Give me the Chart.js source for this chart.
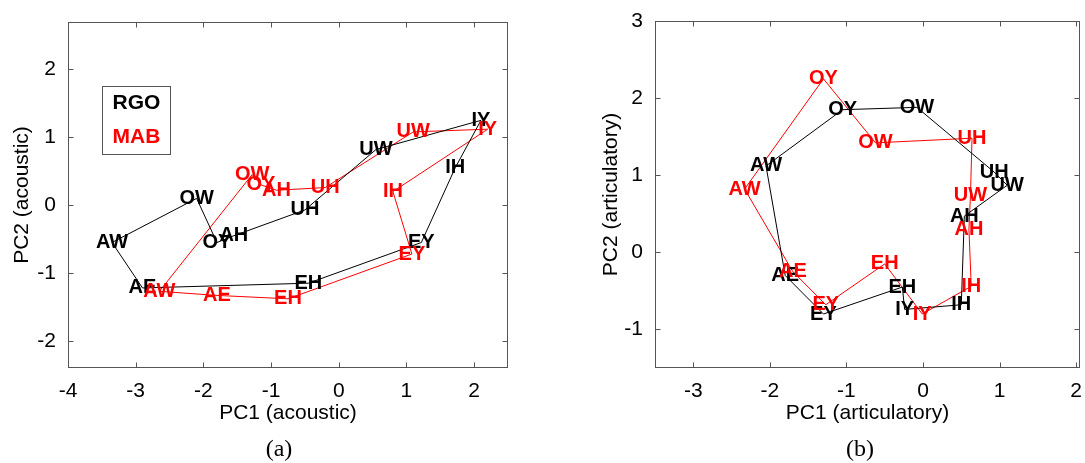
<!DOCTYPE html>
<html>
<head>
<meta charset="utf-8">
<script src="https://cdn.jsdelivr.net/npm/chart.js@4.4.0/dist/chart.umd.min.js"></script>
<style>
  body { margin: 0; background: #fff; width: 1085px; height: 463px; overflow: hidden; position: relative; }
  canvas { position: absolute; top: 0; }
  #chartA { left: 0; }
  #chartB { left: 540px; }
  .cap { position: absolute; top: 435px; font-family: "Liberation Serif", serif; font-size: 24px; color: #000; transform: translateX(-50%); }
</style>
</head>
<body>
<canvas id="chartA" width="540" height="463"></canvas>
<canvas id="chartB" width="545" height="463"></canvas>
<div class="cap" style="left:279px">(a)</div>
<div class="cap" style="left:860px">(b)</div>
<script>
// (a) acoustic space, vowels in polygon order
const acLabels = ['IY', 'IH', 'EY', 'EH', 'AE', 'AW', 'OW', 'OY', 'AH', 'UH', 'UW'];
const acRgoX = [2.1, 1.72, 1.22, -0.45, -2.9, -3.35, -2.1, -1.8, -1.55, -0.5, 0.55];
const acRgoY = [1.25, 0.55, -0.55, -1.15, -1.22, -0.55, 0.1, -0.55, -0.45, -0.07, 0.82];
const acMabX = [2.2, 0.8, 1.08, -0.75, -1.8, -2.65, -1.28, -1.15, -0.92, -0.2, 1.1];
const acMabY = [1.12, 0.2, -0.72, -1.38, -1.33, -1.27, 0.45, 0.3, 0.22, 0.26, 1.08];

// (b) articulatory space
const arLabels = ['AW', 'OY', 'OW', 'UH', 'UW', 'AH', 'IH', 'IY', 'EH', 'EY', 'AE'];
const arRgoX = [-2.05, -1.05, -0.08, 0.93, 1.1, 0.54, 0.5, -0.24, -0.27, -1.3, -1.8];
const arRgoY = [1.12, 1.85, 1.88, 1.04, 0.87, 0.47, -0.68, -0.74, -0.45, -0.8, -0.3];
const arMabX = [-2.33, -1.3, -0.62, 0.64, 0.62, 0.6, 0.63, -0.01, -0.5, -1.27, -1.7];
const arMabY = [0.82, 2.25, 1.42, 1.48, 0.74, 0.3, -0.44, -0.8, -0.15, -0.68, -0.25];

const seriesNames = ['RGO', 'MAB'];
const seriesColors = ['#000000', '#ff0000'];

const axisColor = '#555555';
const sans = '"Liberation Sans", Arial, sans-serif';

// closed polygon
function loop(xs, ys) {
    const pts = xs.map((x, i) => ({x: x, y: ys[i]}));
    pts.push(pts[0]);
    return pts;
}

// MATLAB style box with inward ticks
const boxPlugin = {
    id: 'box',
    afterDraw(chart) {
        const ctx = chart.ctx;
        const a = chart.chartArea;
        const L = Math.round(a.left) + 0.5, R = Math.round(a.right) - 0.5;
        const T = Math.round(a.top) + 0.5, B = Math.round(a.bottom) - 0.5;
        ctx.save();
        ctx.strokeStyle = axisColor;
        ctx.lineWidth = 1;
        ctx.strokeRect(L, T, R - L, B - T);
        ctx.beginPath();
        chart.scales.x.ticks.forEach(t => {
            const px = Math.round(chart.scales.x.getPixelForValue(t.value)) + 0.5;
            ctx.moveTo(px, B); ctx.lineTo(px, B - 5);
            ctx.moveTo(px, T); ctx.lineTo(px, T + 5);
        });
        chart.scales.y.ticks.forEach(t => {
            const py = Math.round(chart.scales.y.getPixelForValue(t.value)) + 0.5;
            ctx.moveTo(L, py); ctx.lineTo(L + 5, py);
            ctx.moveTo(R, py); ctx.lineTo(R - 5, py);
        });
        ctx.stroke();
        ctx.restore();
    }
};

// vowel labels on every vertex
const labelPlugin = {
    id: 'vowels',
    afterDatasetsDraw(chart, args, opts) {
        const ctx = chart.ctx;
        ctx.save();
        ctx.font = 'bold 20px ' + sans;
        ctx.textAlign = 'center';
        ctx.textBaseline = 'middle';
        chart.data.datasets.forEach((ds, di) => {
            const meta = chart.getDatasetMeta(di);
            ctx.fillStyle = ds.borderColor;
            opts.names.forEach((name, i) => {
                const p = meta.data[i];
                ctx.fillText(name, p.x, p.y);
            });
        });
        // legend box
        if (opts.legend) {
            const xs = chart.scales.x, ys = chart.scales.y;
            const l = Math.round(xs.getPixelForValue(-3.5)) + 0.5;
            const r = Math.round(xs.getPixelForValue(-2.5)) + 0.5;
            const t = Math.round(ys.getPixelForValue(1.76)) + 0.5;
            const b = Math.round(ys.getPixelForValue(0.75)) + 0.5;
            ctx.fillStyle = '#fff';
            ctx.fillRect(l, t, r - l, b - t);
            ctx.strokeStyle = axisColor;
            ctx.lineWidth = 1;
            ctx.strokeRect(l, t, r - l, b - t);
            ctx.font = 'bold 21px ' + sans;
            seriesNames.forEach((n, i) => {
                ctx.fillStyle = seriesColors[i];
                ctx.fillText(n, (l + r) / 2, ys.getPixelForValue(i === 0 ? 1.5 : 1.0));
            });
        }
        ctx.restore();
    }
};

function makeChart(id, opt) {
    const ctx = document.getElementById(id).getContext('2d');
    return new Chart(ctx, {
        type: 'scatter',
        data: {
            datasets: opt.series.map((s, i) => ({
                label: seriesNames[i],
                data: loop(s[0], s[1]),
                showLine: true,
                borderColor: seriesColors[i],
                backgroundColor: seriesColors[i],
                borderWidth: 1,
                pointRadius: 0,
                tension: 0
            }))
        },
        options: {
            responsive: false,
            animation: false,
            layout: { padding: opt.pad },
            plugins: {
                legend: { display: false },
                tooltip: { enabled: false },
                vowels: { names: opt.names, legend: opt.legend }
            },
            scales: {
                x: {
                    type: 'linear',
                    min: opt.xMin, max: opt.xMax,
                    grid: { display: false },
                    border: { display: false },
                    ticks: { stepSize: 1, includeBounds: false, padding: 3, color: '#000', font: { family: sans, size: 21 } },
                    title: { display: true, text: opt.xTitle, color: '#000', font: { family: sans, size: 21 }, padding: { bottom: 37 } },
                    afterFit: s => { s.height = 95; }
                },
                y: {
                    type: 'linear',
                    min: opt.yMin, max: opt.yMax,
                    grid: { display: false },
                    border: { display: false },
                    ticks: { stepSize: 1, includeBounds: false, padding: 4, color: '#000', font: { family: sans, size: 21 } },
                    title: { display: true, text: opt.yTitle, color: '#000', font: { family: sans, size: 21 }, padding: { top: opt.yTitlePad } },
                    afterFit: s => { s.width = opt.yWidth; }
                }
            }
        },
        plugins: [boxPlugin, labelPlugin]
    });
}

//chart a
makeChart('chartA', {
    series: [[acRgoX, acRgoY], [acMabX, acMabY]],
    names: acLabels,
    legend: true,
    xMin: -4, xMax: 2.5, yMin: -2.4, yMax: 2.7,
    xTitle: 'PC1 (acoustic)', yTitle: 'PC2 (acoustic)',
    pad: { top: 22, right: 32, left: 0, bottom: 0 },
    yWidth: 68, yTitlePad: 10
});

//chart b
makeChart('chartB', {
    series: [[arRgoX, arRgoY], [arMabX, arMabY]],
    names: arLabels,
    legend: false,
    xMin: -3.5, xMax: 2.05, yMin: -1.5, yMax: 3,
    xTitle: 'PC1 (articulatory)', yTitle: 'PC2 (articulatory)',
    pad: { top: 21, right: 1, left: 0, bottom: 0 },
    yWidth: 115, yTitlePad: 59
});
</script>
</body>
</html>
